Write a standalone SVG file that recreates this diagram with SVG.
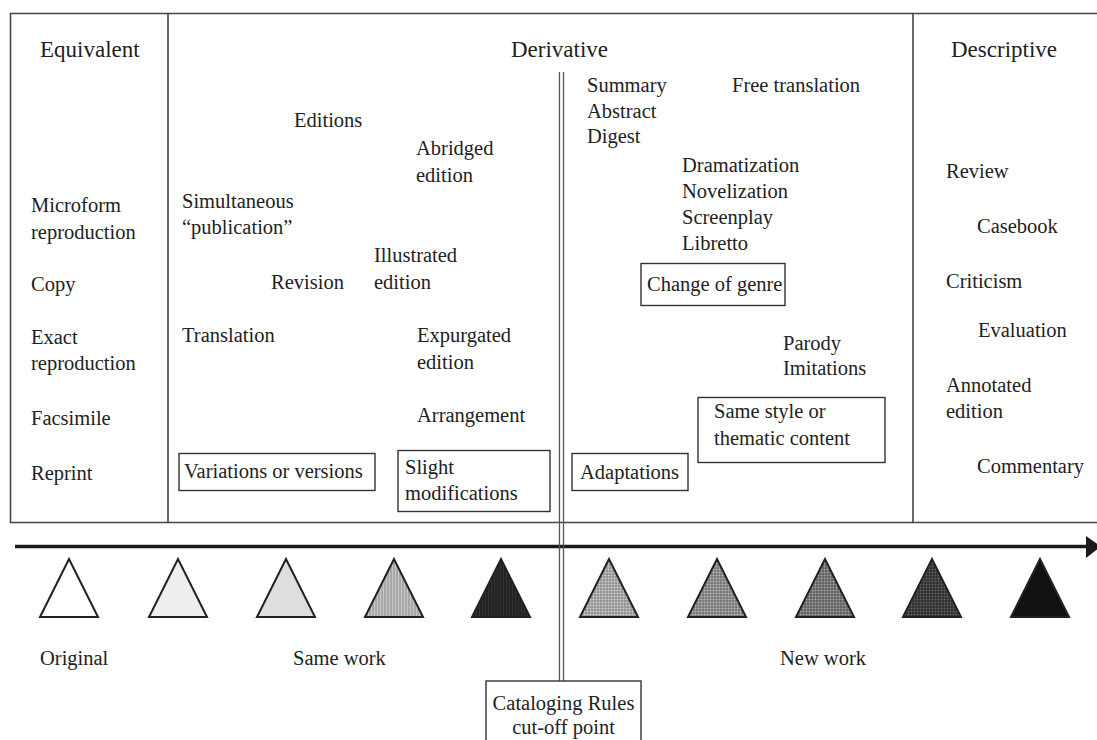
<svg xmlns="http://www.w3.org/2000/svg" width="1097" height="740" viewBox="0 0 1097 740">
  <style>
    .t { font-family: "Liberation Serif", "Times New Roman", serif; font-size: 20.5px; fill: #222; }
    .h { font-family: "Liberation Serif", "Times New Roman", serif; font-size: 23px; fill: #222; }
    .frame { stroke: #444; stroke-width: 1.6; fill: none; }
    .box { stroke: #333; stroke-width: 1.4; fill: none; }
    .tri { stroke: #222; stroke-width: 2; stroke-linejoin: miter; }
  </style>
  <defs>
    <pattern id="vlines" width="3" height="3" patternUnits="userSpaceOnUse">
      <rect width="3" height="3" fill="#c8c8c8"/>
      <line x1="1" y1="0" x2="1" y2="3" stroke="#777" stroke-width="0.8"/>
    </pattern>
    <pattern id="grid1" width="3" height="3" patternUnits="userSpaceOnUse">
      <rect width="3" height="3" fill="#d2d2d2"/>
      <path d="M1 0V3M0 1H3" stroke="#666" stroke-width="0.7"/>
    </pattern>
    <pattern id="grid2" width="3" height="3" patternUnits="userSpaceOnUse">
      <rect width="3" height="3" fill="#bbb"/>
      <path d="M1 0V3M0 1H3" stroke="#555" stroke-width="0.8"/>
    </pattern>
    <pattern id="grid3" width="3" height="3" patternUnits="userSpaceOnUse">
      <rect width="3" height="3" fill="#aaa"/>
      <path d="M1 0V3M0 1H3" stroke="#444" stroke-width="0.9"/>
    </pattern>
    <pattern id="grid4" width="3" height="3" patternUnits="userSpaceOnUse">
      <rect width="3" height="3" fill="#666"/>
      <path d="M1 0V3M0 1H3" stroke="#222" stroke-width="1"/>
    </pattern>
    <pattern id="dark" width="3" height="3" patternUnits="userSpaceOnUse">
      <rect width="3" height="3" fill="#333"/>
      <path d="M1 0V3" stroke="#111" stroke-width="1"/>
    </pattern>
  </defs>

  <!-- table frame and column dividers -->
  <g id="frame">
    <path class="frame" d="M1097 13.5H10.5V522.5H1097"/>
    <line class="frame" x1="168" y1="13.5" x2="168" y2="522.5"/>
    <line class="frame" x1="913" y1="13.5" x2="913" y2="522.5"/>
  </g>

  <!-- column headings -->
  <g id="headings">
    <text class="h" x="40" y="57">Equivalent</text>
    <text class="h" x="511" y="57">Derivative</text>
    <text class="h" x="951" y="57">Descriptive</text>
  </g>

  <!-- equivalent column -->
  <g id="equivalent">
    <text class="t" x="31" y="212">Microform</text>
    <text class="t" x="31" y="239">reproduction</text>
    <text class="t" x="31" y="291">Copy</text>
    <text class="t" x="31" y="344">Exact</text>
    <text class="t" x="31" y="370">reproduction</text>
    <text class="t" x="31" y="425">Facsimile</text>
    <text class="t" x="31" y="480">Reprint</text>
  </g>

  <!-- derivative: same work side -->
  <g id="editions">
    <text class="t" x="294" y="127">Editions</text>
    <text class="t" x="416" y="155">Abridged</text>
    <text class="t" x="416" y="182">edition</text>
    <text class="t" x="182" y="208">Simultaneous</text>
    <text class="t" x="182" y="234">“publication”</text>
    <text class="t" x="374" y="262">Illustrated</text>
    <text class="t" x="374" y="289">edition</text>
    <text class="t" x="271" y="289">Revision</text>
    <text class="t" x="182" y="342">Translation</text>
    <text class="t" x="417" y="342">Expurgated</text>
    <text class="t" x="417" y="369">edition</text>
    <text class="t" x="417" y="422">Arrangement</text>
  </g>
  <g id="variations">
    <rect class="box" x="179" y="453.5" width="196" height="37"/>
    <text class="t" x="184" y="478">Variations or versions</text>
  </g>
  <g id="slight">
    <rect class="box" x="398" y="450.5" width="152" height="61"/>
    <text class="t" x="405" y="474">Slight</text>
    <text class="t" x="405" y="500">modifications</text>
  </g>

  <!-- derivative: new work side -->
  <g id="summaries">
    <text class="t" x="587" y="92">Summary</text>
    <text class="t" x="587" y="118">Abstract</text>
    <text class="t" x="587" y="143">Digest</text>
    <text class="t" x="732" y="92">Free translation</text>
  </g>
  <g id="genre">
    <text class="t" x="682" y="172">Dramatization</text>
    <text class="t" x="682" y="198">Novelization</text>
    <text class="t" x="682" y="224">Screenplay</text>
    <text class="t" x="682" y="250">Libretto</text>
    <rect class="box" x="641" y="263.5" width="144" height="42"/>
    <text class="t" x="647" y="291">Change of genre</text>
  </g>
  <g id="style">
    <text class="t" x="783" y="350">Parody</text>
    <text class="t" x="783" y="375">Imitations</text>
    <rect class="box" x="698" y="397.5" width="187" height="65"/>
    <text class="t" x="714" y="418">Same style or</text>
    <text class="t" x="714" y="445">thematic content</text>
  </g>
  <g id="adaptations">
    <rect class="box" x="572" y="453.5" width="116" height="37"/>
    <text class="t" x="580" y="479">Adaptations</text>
  </g>

  <!-- descriptive column -->
  <g id="descriptive">
    <text class="t" x="946" y="178">Review</text>
    <text class="t" x="977" y="233">Casebook</text>
    <text class="t" x="946" y="288">Criticism</text>
    <text class="t" x="978" y="337">Evaluation</text>
    <text class="t" x="946" y="392">Annotated</text>
    <text class="t" x="946" y="418">edition</text>
    <text class="t" x="977" y="473">Commentary</text>
  </g>

  <!-- continuum arrow and cut-off line -->
  <g id="connectors">
    <line x1="15" y1="546.5" x2="1088" y2="546.5" stroke="#1a1a1a" stroke-width="3.5"/>
    <polygon points="1086,536 1101,546.5 1086,558" fill="#1a1a1a"/>
    <line x1="559.5" y1="72" x2="559.5" y2="681" stroke="#555" stroke-width="1.3"/>
    <line x1="563.5" y1="72" x2="563.5" y2="681" stroke="#555" stroke-width="1.3"/>
  </g>

  <!-- shading scale -->
  <g id="triangles">
    <polygon class="tri" fill="#fff" points="69,559 40,617 98,617"/>
    <polygon class="tri" fill="#eeeeee" points="178,559 149,617 207,617"/>
    <polygon class="tri" fill="#dedede" points="286,559 257,617 315,617"/>
    <polygon class="tri" fill="url(#vlines)" points="394,559 365,617 423,617"/>
    <polygon class="tri" fill="url(#dark)" points="501,559 472,617 530,617"/>
    <polygon class="tri" fill="url(#grid1)" points="609,559 580,617 638,617"/>
    <polygon class="tri" fill="url(#grid2)" points="717,559 688,617 746,617"/>
    <polygon class="tri" fill="url(#grid3)" points="825,559 796,617 854,617"/>
    <polygon class="tri" fill="url(#grid4)" points="932,559 903,617 961,617"/>
    <polygon class="tri" fill="#111" points="1040,559 1011,617 1069,617"/>
  </g>

  <!-- scale labels -->
  <g id="scale-labels">
    <text class="t" x="40" y="665">Original</text>
    <text class="t" x="293" y="665">Same work</text>
    <text class="t" x="780" y="665">New work</text>
  </g>

  <g id="cutoff">
    <rect class="box" x="486" y="681" width="155" height="70" fill="#fff"/>
    <text class="t" x="563.5" y="710" text-anchor="middle">Cataloging Rules</text>
    <text class="t" x="563.5" y="734" text-anchor="middle">cut-off point</text>
  </g>
</svg>
